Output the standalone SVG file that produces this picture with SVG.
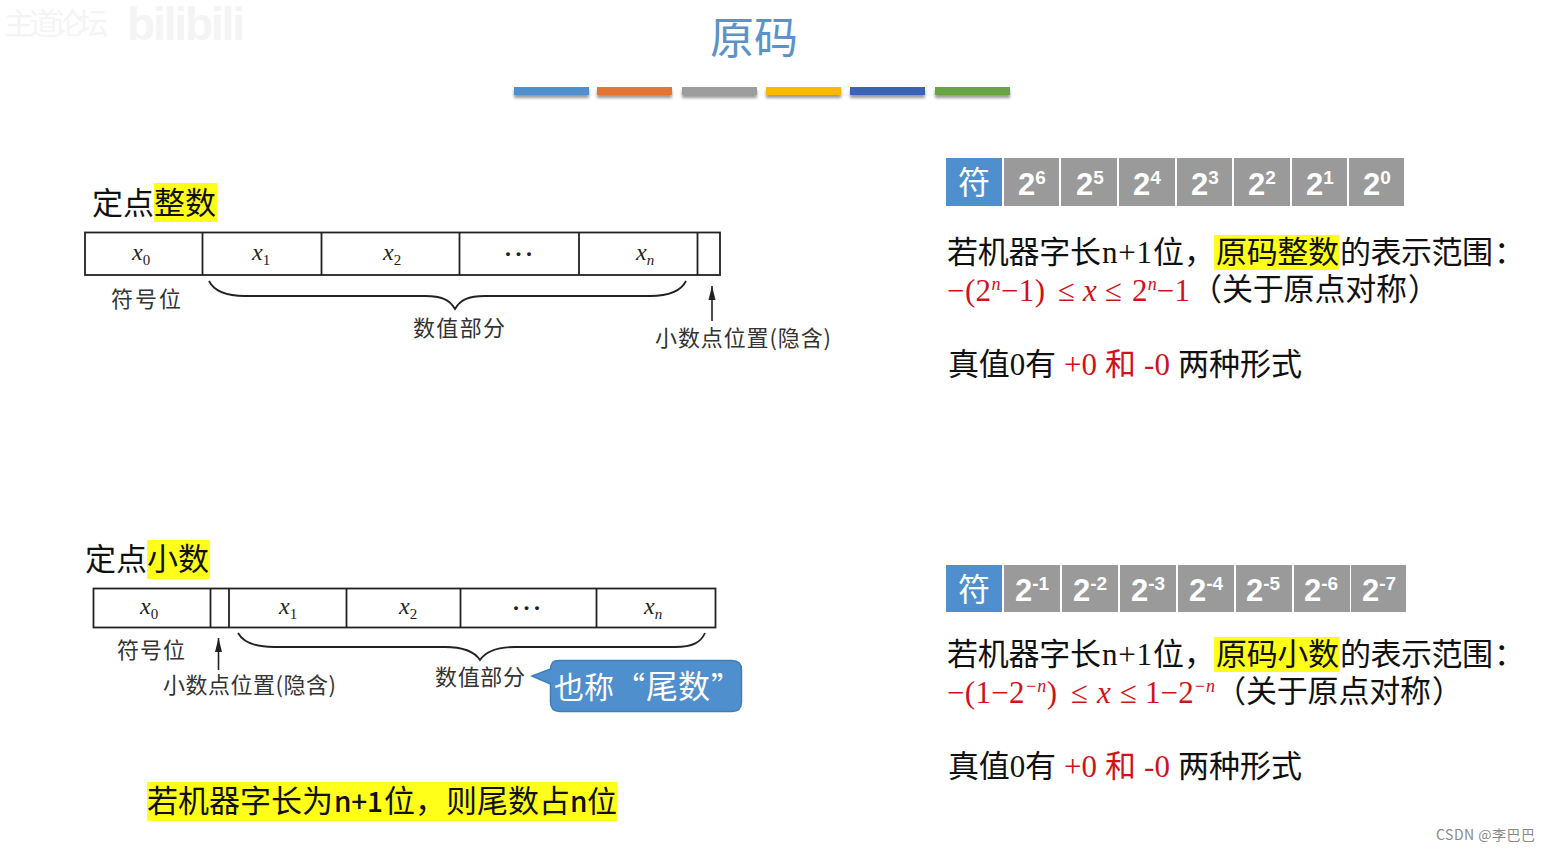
<svg xmlns="http://www.w3.org/2000/svg" width="1550" height="852" viewBox="0 0 1550 852">
<style>
text{font-family:"Noto Sans CJK SC","Noto Sans",sans-serif;fill:#111}
.head{font-size:31px}
.tn{font-size:28px;font-weight:500}
.red{fill:#d0121b}
.m{font-family:"Liberation Serif","Noto Sans CJK SC",serif;font-size:31px}
.lab{font-size:22px;fill:#333}
.x{font-family:"Liberation Serif",serif;font-style:italic;font-size:24px;fill:#222}
.sub{font-size:15px}
.subr{font-style:normal}
.cell{fill:#fff;stroke:#222;stroke-width:1.8}
.div{stroke:#222;stroke-width:1.8}
.hl{fill:#ffff1a}
.g{fill:#9a9a9a}
.b{fill:#4f8fcd}
.ct{font-size:32px;fill:#fff;text-anchor:middle}
.bit{font-family:"Liberation Sans",sans-serif;font-weight:700;font-size:31px;fill:#fff}
.sup{font-size:19px}
.br{fill:none;stroke:#222;stroke-width:1.8}
.ar{stroke:#222;stroke-width:1.6;fill:none}
.wm{fill:#f4f4f4}
.cw{font-size:30px;fill:#fff}
</style>
<defs>
<filter id="sh" x="-10%" y="-60%" width="120%" height="260%"><feGaussianBlur stdDeviation="1.5"/></filter>
<marker id="ah" markerUnits="userSpaceOnUse" markerWidth="14" markerHeight="8" refX="14" refY="4" orient="auto" viewBox="0 0 14 8"><path d="M14 4L0 7.5V.5Z" fill="#222"/></marker>
</defs>
<rect width="1550" height="852" fill="#fff"/>

<g id="watermark">
<text class="wm" x="4" y="34" font-size="30" textLength="104">主道论坛</text>
<text class="wm" x="127" y="40" style="font-family:'Liberation Sans',sans-serif;font-weight:700;font-size:46px" textLength="118">bilibili</text>
</g>

<g id="title">
<text x="754" y="54" text-anchor="middle" style="font-size:44px;fill:#5b93c9">原码</text>
<g id="title-bars">
<rect x="514" y="90" width="75" height="8" fill="#999" filter="url(#sh)"/><rect x="514" y="87" width="75" height="8" fill="#4f8fcd"/>
<rect x="597" y="90" width="75" height="8" fill="#999" filter="url(#sh)"/><rect x="597" y="87" width="75" height="8" fill="#e6732e"/>
<rect x="682" y="90" width="75" height="8" fill="#999" filter="url(#sh)"/><rect x="682" y="87" width="75" height="8" fill="#9d9d9d"/>
<rect x="766" y="90" width="75" height="8" fill="#999" filter="url(#sh)"/><rect x="766" y="87" width="75" height="8" fill="#fdb900"/>
<rect x="850" y="90" width="75" height="8" fill="#999" filter="url(#sh)"/><rect x="850" y="87" width="75" height="8" fill="#3a62b6"/>
<rect x="935" y="90" width="75" height="8" fill="#999" filter="url(#sh)"/><rect x="935" y="87" width="75" height="8" fill="#66a541"/>
</g>
</g>

<g id="integer-heading">
<rect class="hl" x="154" y="183" width="63" height="39"/>
<text x="92" y="214" class="head">定点整数</text>
</g>
<g id="integer-register">
<rect class="cell" x="85" y="232.500" width="635" height="42.500"/>
<path class="div" d="M202.500 232.500V275M321.500 232.500V275M459.500 232.500V275M579 232.500V275M697.500 232.500V275"/>
<text class="x" x="132" y="260">x<tspan class="sub subr" dy="5">0</tspan></text>
<text class="x" x="252" y="260">x<tspan class="sub subr" dy="5">1</tspan></text>
<text class="x" x="383" y="260">x<tspan class="sub subr" dy="5">2</tspan></text>
<text class="x" x="504" y="262" style="font-style:normal;font-weight:700" textLength="29">···</text>
<text class="x" x="636" y="260">x<tspan class="sub" dy="5">n</tspan></text>
</g>
<g id="integer-labels">
<text class="lab" x="111" y="307" textLength="70">符号位</text>
<text class="lab" x="413" y="336" textLength="92">数值部分</text>
<text class="lab" x="655" y="346" textLength="176">小数点位置(隐含)</text>
</g>

<g id="fraction-heading">
<rect class="hl" x="147" y="540" width="63" height="39"/>
<text x="85" y="570" class="head">定点小数</text>
</g>
<g id="fraction-register">
<rect class="cell" x="93.500" y="588.500" width="622" height="39"/>
<path class="div" d="M210.500 588.500V627.500M229 588.500V627.500M346.500 588.500V627.500M460.500 588.500V627.500M596.500 588.500V627.500"/>
<text class="x" x="140" y="614">x<tspan class="sub subr" dy="5">0</tspan></text>
<text class="x" x="279" y="614">x<tspan class="sub subr" dy="5">1</tspan></text>
<text class="x" x="399" y="614">x<tspan class="sub subr" dy="5">2</tspan></text>
<text class="x" x="512" y="616" style="font-style:normal;font-weight:700" textLength="29">···</text>
<text class="x" x="644" y="614">x<tspan class="sub" dy="5">n</tspan></text>
</g>
<g id="fraction-labels">
<text class="lab" x="117" y="658" textLength="68">符号位</text>
<text class="lab" x="163" y="693" textLength="173">小数点位置(隐含)</text>
<text class="lab" x="435" y="685" textLength="90">数值部分</text>
</g>
<g id="callout">
<path d="M558 660.500H732Q741.500 660.500 741.500 670V702Q741.500 711.500 732 711.500H560Q550.500 711.500 550.500 702V684L532 676L550.500 669Q551 660.500 558 660.500Z" fill="#4f8fcd" stroke="#3f7fb8" stroke-width="1.500"/>
<text class="cw" x="554" y="698">也称</text>
<text class="cw" x="615" y="698">“</text>
<text class="cw" x="646" y="698" style="font-size:32px">尾数</text>
<text class="cw" x="711" y="698">”</text>
</g>
<g id="tail-note">
<rect class="hl" x="147" y="782" width="470" height="39"/>
<text x="147" y="812" class="head" textLength="186">若机器字长为</text>
<text x="334" y="812" class="tn" textLength="49">n+1</text>
<text x="384" y="812" class="head">位，</text>
<text x="446" y="812" class="head">则尾数占</text>
<text x="570" y="812" class="tn">n</text>
<text x="587" y="812" class="head" style="font-size:30px">位</text>
</g>

<g id="connectors">
<path class="br" d="M209 281C214 291 226 296 245 296H425C442 296 450 300 455 309C460 300 468 296 485 296H650C670 296 681 291 686 281"/>
<path class="ar" d="M712 321V286" marker-end="url(#ah)"/>
<path class="br" d="M238 633C243 642 255 647 274 647H445C463 647 474 651 480 660C486 651 497 647 515 647H675C693 647 701 642 705 633"/>
<path class="ar" d="M218.500 670V638" marker-end="url(#ah)"/>
</g>

<g id="bits-integer">
<rect class="b" x="946" y="158" width="56" height="48"/><text class="ct" x="974" y="194">符</text>
<rect class="g" x="1004" y="158" width="55" height="48"/><text class="bit" x="1018" y="195">2<tspan class="sup" dy="-11">6</tspan></text>
<rect class="g" x="1061" y="158" width="56" height="48"/><text class="bit" x="1076" y="195">2<tspan class="sup" dy="-11">5</tspan></text>
<rect class="g" x="1119" y="158" width="56" height="48"/><text class="bit" x="1133" y="195">2<tspan class="sup" dy="-11">4</tspan></text>
<rect class="g" x="1177" y="158" width="55" height="48"/><text class="bit" x="1191" y="195">2<tspan class="sup" dy="-11">3</tspan></text>
<rect class="g" x="1234" y="158" width="56" height="48"/><text class="bit" x="1248" y="195">2<tspan class="sup" dy="-11">2</tspan></text>
<rect class="g" x="1292" y="158" width="55" height="48"/><text class="bit" x="1306" y="195">2<tspan class="sup" dy="-11">1</tspan></text>
<rect class="g" x="1349" y="158" width="55" height="48"/><text class="bit" x="1363" y="195">2<tspan class="sup" dy="-11">0</tspan></text>
</g>
<g id="range-integer">
<rect class="hl" x="1214" y="235" width="125" height="35"/>
<text class="m" x="947" y="263" textLength="154">若机器字长</text>
<text class="m" x="1102" y="263" textLength="50">n+1</text>
<text class="m" x="1153" y="263">位，</text>
<text class="m" x="1216" y="263" textLength="123">原码整数</text>
<text class="m" x="1340" y="263" textLength="153">的表示范围</text>
<text class="m" x="1494" y="263">：</text>
<text class="m red" x="947" y="301" textLength="98">−(2<tspan style="font-size:18px;font-style:italic" dy="-11">n</tspan><tspan dy="11">−1)</tspan></text>
<text class="m red" x="1058" y="301" textLength="64">≤<tspan style="font-style:italic">x</tspan>≤</text>
<text class="m red" x="1132" y="301" textLength="58">2<tspan style="font-size:18px;font-style:italic" dy="-11">n</tspan><tspan dy="11">−1</tspan></text>
<text class="head" x="1191" y="300">（</text>
<text class="head" x="1222" y="300" textLength="185">关于原点对称</text>
<text class="head" x="1408" y="300">）</text>
<text class="m" x="948" y="375" textLength="108">真值0有</text>
<text class="m red" x="1064" y="375" textLength="106">+0 和 -0</text>
<text class="m" x="1178" y="375" textLength="124">两种形式</text>
</g>

<g id="bits-fraction">
<rect class="b" x="946" y="565" width="56" height="47"/><text class="ct" x="974" y="601">符</text>
<rect class="g" x="1004" y="565" width="56" height="47"/><text class="bit" x="1015" y="601">2<tspan class="sup" dy="-11">-1</tspan></text>
<rect class="g" x="1062" y="565" width="56" height="47"/><text class="bit" x="1073" y="601">2<tspan class="sup" dy="-11">-2</tspan></text>
<rect class="g" x="1120" y="565" width="56" height="47"/><text class="bit" x="1131" y="601">2<tspan class="sup" dy="-11">-3</tspan></text>
<rect class="g" x="1178" y="565" width="56" height="47"/><text class="bit" x="1189" y="601">2<tspan class="sup" dy="-11">-4</tspan></text>
<rect class="g" x="1236" y="565" width="56" height="47"/><text class="bit" x="1246" y="601">2<tspan class="sup" dy="-11">-5</tspan></text>
<rect class="g" x="1294" y="565" width="56" height="47"/><text class="bit" x="1304" y="601">2<tspan class="sup" dy="-11">-6</tspan></text>
<rect class="g" x="1351" y="565" width="55" height="47"/><text class="bit" x="1362" y="601">2<tspan class="sup" dy="-11">-7</tspan></text>
</g>
<g id="range-fraction">
<rect class="hl" x="1214" y="637" width="125" height="35"/>
<text class="m" x="947" y="665" textLength="154">若机器字长</text>
<text class="m" x="1102" y="665" textLength="50">n+1</text>
<text class="m" x="1153" y="665">位，</text>
<text class="m" x="1216" y="665" textLength="123">原码小数</text>
<text class="m" x="1340" y="665" textLength="153">的表示范围</text>
<text class="m" x="1494" y="665">：</text>
<text class="m red" x="947" y="703" textLength="110">−(1−2<tspan style="font-size:18px;font-style:italic" dy="-11">−n</tspan><tspan dy="11">)</tspan></text>
<text class="m red" x="1071" y="703" textLength="66">≤<tspan style="font-style:italic">x</tspan>≤</text>
<text class="m red" x="1145" y="703" textLength="70">1−2<tspan style="font-size:18px;font-style:italic" dy="-11">−n</tspan></text>
<text class="head" x="1215" y="702">（</text>
<text class="head" x="1246" y="702" textLength="185">关于原点对称</text>
<text class="head" x="1432" y="702">）</text>
<text class="m" x="948" y="777" textLength="108">真值0有</text>
<text class="m red" x="1064" y="777" textLength="106">+0 和 -0</text>
<text class="m" x="1178" y="777" textLength="124">两种形式</text>
</g>

<g id="credit"><text x="1436" y="840" style="font-size:14px;fill:#8a8a8a" textLength="99">CSDN @李巴巴</text></g>
</svg>
